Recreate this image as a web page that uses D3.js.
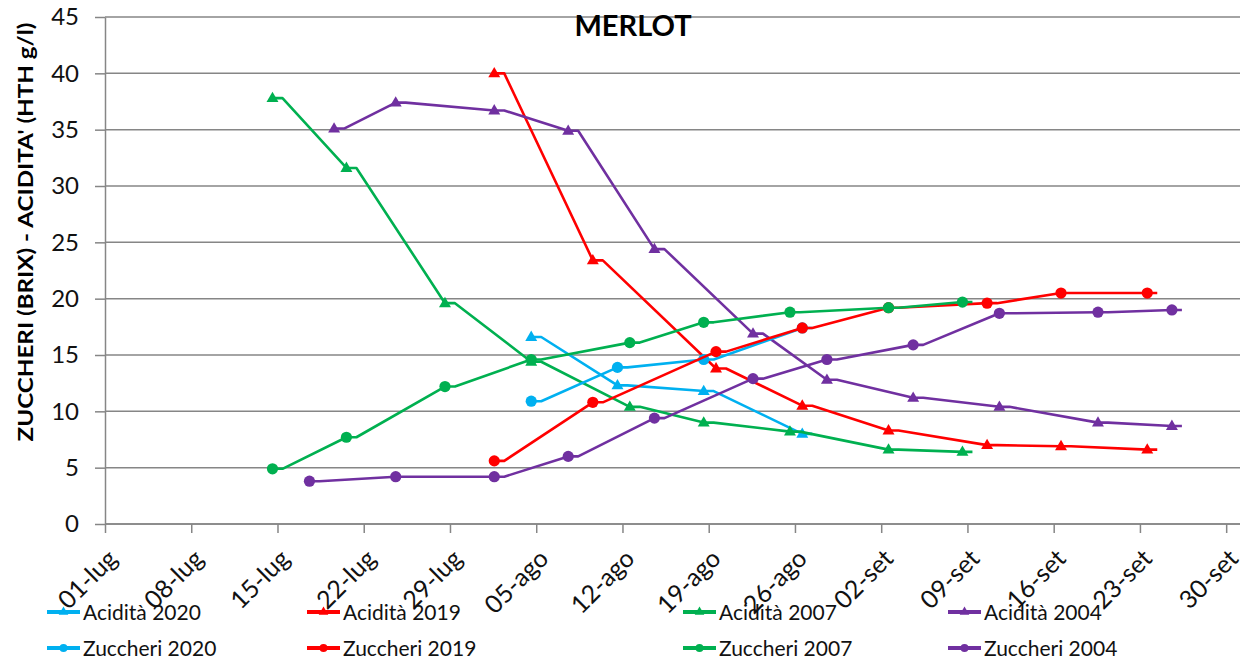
<!DOCTYPE html>
<html><head><meta charset="utf-8">
<script src="https://cdn.jsdelivr.net/npm/d3@7"></script>
<style>body{margin:0;background:#fff}svg{display:block}</style>
</head><body>
<svg id="chart" width="1249" height="664"></svg>
<script>
// ---------------- DATA ----------------
const tickLabels = ["01-lug","08-lug","15-lug","22-lug","29-lug","05-ago","12-ago","19-ago","26-ago","02-set","09-set","16-set","23-set","30-set"];
const yTicks = [0,5,10,15,20,25,30,35,40,45];

const dates2020 = ["2020-08-05","2020-08-12","2020-08-19","2020-08-27"];
const acid2020  = [16.6, 12.3, 11.8, 8.0];
const zucc2020  = [10.9, 13.9, 14.6, 17.4];

const dates2019 = ["2020-08-02","2020-08-10","2020-08-20","2020-08-27","2020-09-03","2020-09-11","2020-09-17","2020-09-24"];
const acid2019  = [40.0, 23.4, 13.8, 10.5, 8.3, 7.0, 6.9, 6.6];
const zucc2019  = [5.6, 10.8, 15.3, 17.4, 19.2, 19.6, 20.5, 20.5];

const dates2007 = ["2020-07-15","2020-07-21","2020-07-29","2020-08-05","2020-08-13","2020-08-19","2020-08-26","2020-09-03","2020-09-09"];
const acid2007  = [37.8, 31.6, 19.6, 14.4, 10.4, 9.0, 8.2, 6.6, 6.4];
const zucc2007  = [4.9, 7.7, 12.2, 14.6, 16.1, 17.9, 18.8, 19.2, 19.7];

const datesAcid2004 = ["2020-07-20","2020-07-25","2020-08-02","2020-08-08","2020-08-15","2020-08-23","2020-08-29","2020-09-05","2020-09-12","2020-09-20","2020-09-26"];
const acid2004  = [35.1, 37.4, 36.7, 34.9, 24.4, 16.9, 12.8, 11.2, 10.4, 9.0, 8.7];
const datesZucc2004 = ["2020-07-18","2020-07-25","2020-08-02","2020-08-08","2020-08-15","2020-08-23","2020-08-29","2020-09-05","2020-09-12","2020-09-20","2020-09-26"];
const zucc2004  = [3.8, 4.2, 4.2, 6.0, 9.4, 12.9, 14.6, 15.9, 18.7, 18.8, 19.0];

const seriesNames = ["Acidità 2020","Acidità 2019","Acidità 2007","Acidità 2004","Zuccheri 2020","Zuccheri 2019","Zuccheri 2007","Zuccheri 2004"];
const seriesColors = ["#00B0F0","#FF0000","#00B050","#7030A0","#00B0F0","#FF0000","#00B050","#7030A0"];
const seriesDates = [dates2020, dates2019, dates2007, datesAcid2004, dates2020, dates2019, dates2007, datesZucc2004];
const seriesValues = [acid2020, acid2019, acid2007, acid2004, zucc2020, zucc2019, zucc2007, zucc2004];

// ---------------- CHART ----------------
const parse = d3.timeParse("%Y-%m-%d");
const svg = d3.select("#chart");
const FONT = "Lato, 'Open Sans', sans-serif";

const x = d3.scaleTime().domain([parse("2020-07-01"), parse("2020-10-01")]).range([105, 1238.5]);
const y = d3.scaleLinear().domain([0, 45]).range([524, 17]);
const gridRight = 1240;
const axisColor = "#868686";

// gridlines
svg.append("g").selectAll("line").data(yTicks).join("line")
  .attr("x1", x.range()[0]).attr("x2", gridRight)
  .attr("y1", d => y(d)).attr("y2", d => y(d))
  .attr("stroke", axisColor).attr("stroke-width", 1.5);

// y axis
const yAxis = svg.append("g").attr("transform", `translate(${x.range()[0]},0)`)
  .call(d3.axisLeft(y).tickValues(yTicks).tickSize(10).tickPadding(16).tickSizeOuter(0));
yAxis.select(".domain").attr("stroke", axisColor).attr("stroke-width", 1.5);
yAxis.selectAll(".tick line").attr("stroke", axisColor).attr("stroke-width", 1.5);
yAxis.selectAll(".tick text").attr("font-family", FONT).attr("font-size", 24).attr("fill", "#111");

// x axis
const tickDates = d3.timeDay.range(parse("2020-07-01"), parse("2020-10-01"), 7);
const xAxis = svg.append("g").attr("transform", `translate(0,${y(0)})`)
  .call(d3.axisBottom(x).tickValues(tickDates).tickSize(9).tickSizeOuter(0).tickFormat((d, i) => tickLabels[i]));
xAxis.select(".domain").attr("d", `M${x.range()[0]},0H${gridRight}`).attr("stroke", axisColor).attr("stroke-width", 1.5);
xAxis.selectAll(".tick line").attr("stroke", axisColor).attr("stroke-width", 1.5);
xAxis.selectAll(".tick text")
  .attr("font-family", FONT).attr("font-size", 25).attr("fill", "#111")
  .attr("text-anchor", "end").attr("y", 0).attr("dy", "0.35em")
  .attr("transform", "translate(7,30) rotate(-45)");

// series
const OFF = 5;
const line = d3.line();
const tri = d3.symbol().type(d3.symbolTriangle).size(62);
const gSeries = svg.append("g");
seriesNames.forEach((name, s) => {
  const pts = seriesDates[s].map((d, i) => ({ px: x(parse(d)), py: y(seriesValues[s][i]) }));
  const path = [];
  pts.forEach(p => { path.push([p.px - OFF, p.py]); path.push([p.px + OFF, p.py]); });
  const g = gSeries.append("g");
  g.append("path").attr("d", line(path)).attr("fill", "none")
    .attr("stroke", seriesColors[s]).attr("stroke-width", 2.6).attr("stroke-linejoin", "round");
  const isAcid = name.startsWith("Acid");
  if (isAcid) {
    g.selectAll("path.m").data(pts).join("path").attr("class", "m")
      .attr("d", tri).attr("transform", p => `translate(${p.px - OFF},${p.py + 0.5})`)
      .attr("fill", seriesColors[s]);
  } else {
    g.selectAll("circle").data(pts).join("circle")
      .attr("cx", p => p.px - OFF).attr("cy", p => p.py).attr("r", 5.6)
      .attr("fill", seriesColors[s]);
  }
});

// title
svg.append("text").attr("x", 633).attr("y", 36).attr("text-anchor", "middle")
  .attr("font-family", FONT).attr("font-weight", "bold").attr("font-size", 29).attr("fill", "#000")
  .text("MERLOT");

// y axis title
svg.append("text").attr("transform", "translate(33,232) rotate(-90)")
  .attr("text-anchor", "middle").attr("font-family", FONT).attr("font-weight", "bold")
  .attr("font-size", 20).attr("fill", "#000")
  .attr("textLength", 419).attr("lengthAdjust", "spacingAndGlyphs")
  .text("ZUCCHERI (BRIX) - ACIDITA' (HTH g/l)");

// legend
const legCols = [47, 307, 683, 948];
const legRows = [612, 648];
const gLeg = svg.append("g");
seriesNames.forEach((name, s) => {
  const lx = legCols[s % 4], ly = legRows[Math.floor(s / 4)];
  const g = gLeg.append("g").attr("transform", `translate(${lx},${ly})`);
  g.append("line").attr("x1", 0).attr("x2", 33).attr("y1", 0).attr("y2", 0)
    .attr("stroke", seriesColors[s]).attr("stroke-width", 4);
  if (name.startsWith("Acid")) {
    g.append("path").attr("d", d3.symbol().type(d3.symbolTriangle).size(40)).attr("transform", "translate(16.5,0)").attr("fill", seriesColors[s]);
  } else {
    g.append("circle").attr("cx", 16.5).attr("cy", 0).attr("r", 4).attr("fill", seriesColors[s]);
  }
  g.append("text").attr("x", 36).attr("y", 0).attr("dy", "0.36em")
    .attr("font-family", FONT).attr("font-size", 21).attr("fill", "#111").text(name);
});
</script>
</body></html>
